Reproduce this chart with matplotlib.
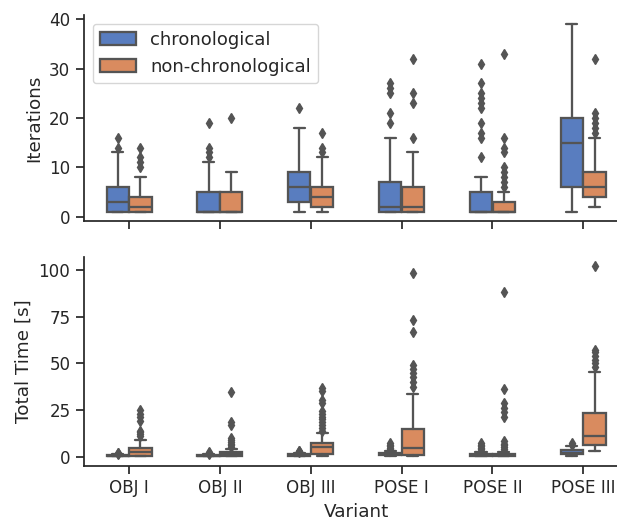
import colorsys
import matplotlib
matplotlib.use("Agg")
import matplotlib.pyplot as plt
import matplotlib.patches as mpatches
import seaborn as sns

# Variants on the x axis
variants = ["OBJ I", "OBJ II", "OBJ III", "POSE I", "POSE II", "POSE III"]
hues = ["chronological", "non-chronological"]

# Iterations, chronological (box stats)
it_c_q1 = [1, 1, 3, 1, 1, 6]
it_c_med = [3, 1, 6, 2, 1, 15]
it_c_q3 = [6, 5, 9, 7, 5, 20]
it_c_lo = [1, 1, 1, 1, 1, 1]
it_c_hi = [13, 11, 18, 16, 8, 39]
it_c_fl = [[14, 16], [12, 13, 14, 19], [22], [19, 21, 25, 26, 27],
           [12, 16, 17, 19, 22, 23, 24, 25, 27, 31], []]

# Iterations, non-chronological
it_n_q1 = [1, 1, 2, 1, 1, 4]
it_n_med = [2, 1, 4, 2, 1, 6]
it_n_q3 = [4, 5, 6, 6, 3, 9]
it_n_lo = [1, 1, 1, 1, 1, 2]
it_n_hi = [8, 9, 12, 13, 5, 16]
it_n_fl = [[10, 11, 12, 14], [20], [13, 14, 17], [16, 23, 25, 32],
           [6, 7, 8, 9, 10, 13, 14, 16, 33], [17, 18, 19, 20, 21, 32]]

# Total time [s], chronological
tt_c_q1 = [0.3, 0.3, 0.6, 0.7, 0.6, 1.2]
tt_c_med = [0.5, 0.5, 0.9, 1.2, 1.0, 2.0]
tt_c_q3 = [0.8, 0.8, 1.3, 2.0, 1.6, 3.6]
tt_c_lo = [0.1, 0.1, 0.3, 0.3, 0.3, 0.4]
tt_c_hi = [1.2, 1.2, 2.0, 3.2, 2.6, 5.7]
tt_c_fl = [[1.5, 1.8, 2.2], [1.5, 1.9, 2.4], [2.4, 2.8, 3.2],
           [4.0, 4.8, 5.6, 6.4, 7.2], [3.2, 4.0, 4.8, 5.6, 6.4, 7.2], [6.5, 7.5]]

# Total time [s], non-chronological
tt_n_q1 = [0.5, 0.2, 1.4, 0.7, 0.6, 6.4]
tt_n_med = [2.3, 1.2, 5.0, 4.6, 1.0, 11.1]
tt_n_q3 = [4.8, 2.5, 7.1, 15.0, 1.5, 23.2]
tt_n_lo = [0.1, 0.1, 0.1, 0.1, 0.2, 2.9]
tt_n_hi = [8.9, 4.0, 12.7, 33.6, 2.3, 45.4]
tt_n_fl = [[11, 12, 13, 14, 19, 21, 23, 25],
           [5, 6, 7, 8, 9, 10, 17, 18.5, 34.5],
           [14, 15.5, 17, 18.5, 20, 21.5, 23, 24.5, 29, 30.5, 35, 36.5],
           [37.5, 40, 42.5, 45, 47, 49, 67, 73, 98.5],
           [3, 4, 5, 6, 7, 8.5, 21.5, 24, 26, 28.5, 36, 88],
           [48, 50, 52, 54, 56, 57, 102]]

sns.set_style("ticks")
sns.set_context("notebook", font_scale=1.1)


def desat(c, prop=0.75):
    h, l, s = colorsys.rgb_to_hls(*c)
    return colorsys.hls_to_rgb(h, l, s * prop)


pal = [desat(c) for c in sns.color_palette("muted")[:2]]
lum = min(colorsys.rgb_to_hls(*c)[1] for c in pal) * 0.6
gray = (lum, lum, lum)
lw = 1.65


def make_stats(q1, med, q3, lo, hi, fl):
    return [dict(q1=a, med=b, q3=c, whislo=d, whishi=e, fliers=f)
            for a, b, c, d, e, f in zip(q1, med, q3, lo, hi, fl)]


def draw(ax, groups):
    width = 0.5 / len(groups)
    for j, (stats, col) in enumerate(zip(groups, pal)):
        pos = [i - 0.25 + width * (j + 0.5) for i in range(len(variants))]
        ax.bxp(stats, positions=pos, widths=width * 0.98, patch_artist=True,
               boxprops=dict(facecolor=col, edgecolor=gray, linewidth=lw),
               medianprops=dict(color=gray, linewidth=lw),
               whiskerprops=dict(color=gray, linewidth=lw),
               capprops=dict(color=gray, linewidth=lw),
               flierprops=dict(marker="d", markersize=5, markerfacecolor=gray,
                               markeredgecolor=gray, linestyle="none"),
               manage_ticks=False)


fig = plt.figure(figsize=(6.17, 5.22), dpi=100)
ax1 = fig.add_axes([0.1355, 0.5766, 0.8834, 0.395])
ax2 = fig.add_axes([0.1355, 0.1069, 0.8834, 0.4015], sharex=ax1)

draw(ax1, [make_stats(it_c_q1, it_c_med, it_c_q3, it_c_lo, it_c_hi, it_c_fl),
           make_stats(it_n_q1, it_n_med, it_n_q3, it_n_lo, it_n_hi, it_n_fl)])
draw(ax2, [make_stats(tt_c_q1, tt_c_med, tt_c_q3, tt_c_lo, tt_c_hi, tt_c_fl),
           make_stats(tt_n_q1, tt_n_med, tt_n_q3, tt_n_lo, tt_n_hi, tt_n_fl)])

ax1.set_xlim(-0.5, len(variants) - 0.5)
ax1.set_ylim(-0.9, 40.9)
ax2.set_ylim(-5.1, 107.1)
ax1.set_yticks([0, 10, 20, 30, 40])
ax2.set_yticks([0, 25, 50, 75, 100])
ax2.set_xticks(range(len(variants)))
ax2.set_xticklabels(variants)
ax1.tick_params(labelbottom=False)

ax1.set_ylabel("Iterations")
ax2.set_ylabel("Total Time [s]")
ax2.set_xlabel("Variant")

handles = [mpatches.Patch(facecolor=c, edgecolor=gray, linewidth=lw, label=h)
           for c, h in zip(pal, hues)]
ax1.legend(handles=handles, loc="upper left", fontsize=13)

sns.despine(fig=fig)
fig.savefig("out.png", dpi=100)
